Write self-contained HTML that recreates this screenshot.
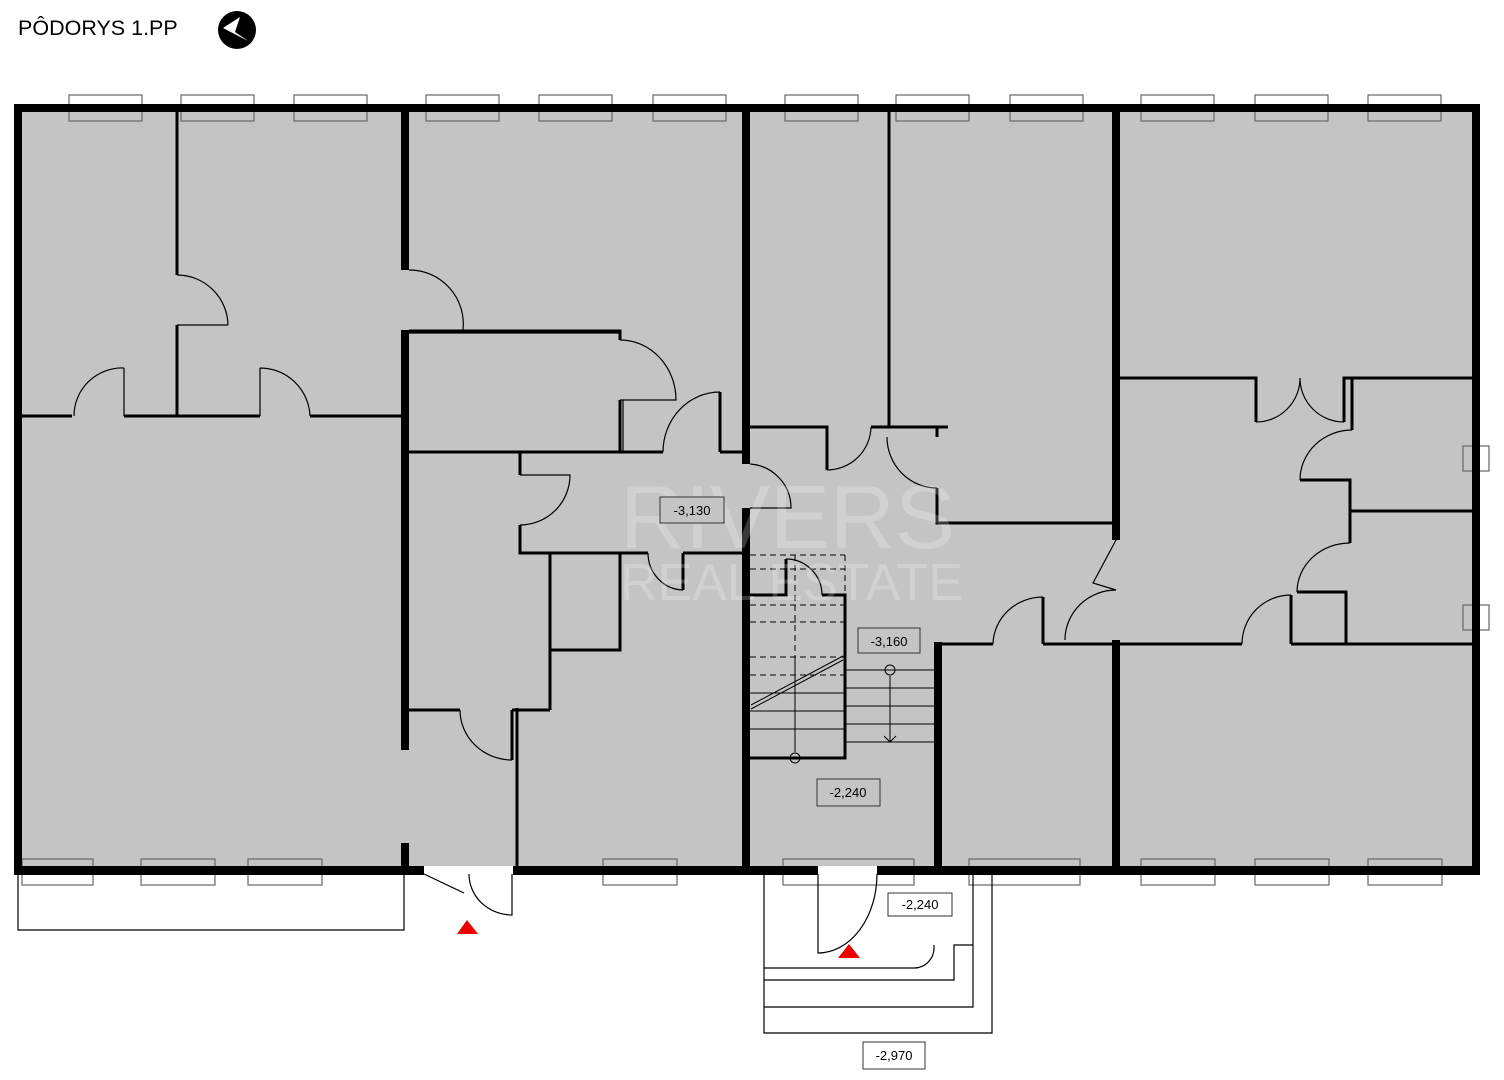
<!DOCTYPE html>
<html><head><meta charset="utf-8"><style>
html,body{margin:0;padding:0;background:#fff;}
svg{display:block;}
text{font-family:"Liberation Sans",sans-serif;}
</style></head><body>
<svg width="1504" height="1080" viewBox="0 0 1504 1080" xmlns="http://www.w3.org/2000/svg">
<text x="18" y="35" font-size="21.5" fill="#000">PÔDORYS 1.PP</text>
<circle cx="237" cy="30" r="19" fill="#000"/>
<polygon points="223,28 240,17 235,32 248,41" fill="#fff"/>

<!-- floor -->
<rect x="18" y="108" width="1458" height="762" fill="#c4c4c4"/>
<rect x="424" y="866" width="89" height="10" fill="#fff"/>
<rect x="818" y="866" width="59" height="10" fill="#fff"/>

<!-- windows -->
<g fill="none" stroke="#666" stroke-width="1.2">
<rect x="69" y="95" width="73" height="26"/><rect x="181" y="95" width="73" height="26"/><rect x="294" y="95" width="73" height="26"/>
<rect x="426" y="95" width="73" height="26"/><rect x="539" y="95" width="73" height="26"/><rect x="653" y="95" width="73" height="26"/>
<rect x="785" y="95" width="73" height="26"/><rect x="896" y="95" width="73" height="26"/><rect x="1010" y="95" width="73" height="26"/>
<rect x="1141" y="95" width="73" height="26"/><rect x="1255" y="95" width="73" height="26"/><rect x="1368" y="95" width="73" height="26"/>
<rect x="22" y="859" width="71" height="26"/><rect x="141" y="859" width="74" height="26"/><rect x="248" y="859" width="74" height="26"/>
<rect x="603" y="859" width="74" height="26"/><rect x="783" y="859" width="131" height="26"/><rect x="969" y="859" width="111" height="26"/>
<rect x="1141" y="859" width="74" height="26"/><rect x="1255" y="859" width="74" height="26"/><rect x="1368" y="859" width="74" height="26"/>
<rect x="1463" y="446" width="26" height="25"/><rect x="1463" y="605" width="26" height="25"/>
</g>

<!-- thick walls -->
<g fill="#000">
<rect x="14" y="104" width="1466" height="8"/>
<rect x="14" y="104" width="8" height="770"/>
<rect x="1472" y="104" width="8" height="770"/>
<rect x="14" y="866" width="410" height="9"/>
<rect x="513" y="866" width="305" height="9"/>
<rect x="877" y="866" width="603" height="9"/>
<rect x="401" y="104" width="8" height="166"/>
<rect x="401" y="330" width="8" height="420"/>
<rect x="401" y="843" width="8" height="25"/>
<rect x="742" y="104" width="8" height="360"/>
<rect x="742" y="508" width="8" height="360"/>
<rect x="1112" y="104" width="8" height="436"/>
<rect x="1112" y="640" width="8" height="228"/>
<rect x="934" y="642" width="8" height="226"/>
</g>

<!-- thin walls -->
<g fill="none" stroke="#000" stroke-width="3">
<path d="M177 112V275M177 325V416"/>
<path d="M22 416H72M124 416H260M310 416H401"/>
<path d="M409 331H620V340M620 400V452"/>
<path d="M409 452H663M720 452H742M720 452V392"/>
<path d="M520 452V475M520 525V553H648M683 553H742M683 553V590"/>
<path d="M550 553V710M620 553V650H550"/>
<path d="M409 710H460M512 710H550M512 710V760M517 708V866"/>
<path d="M889 112V427"/>
<path d="M750 427H827V470M871 427H948M937 427V437M937 488V523H1112"/>
<path d="M942 644H993M1043 644H1112M1043 644V597"/>
<path d="M1120 378H1256V422M1344 422V378H1472"/>
<path d="M1352 378V430M1300 480H1350V543M1350 511H1472M1297 592H1346V644"/>
<path d="M1120 644H1242M1291 644H1472M1291 644V595"/>
<path d="M750 595H786V559M822 595H845V758H750"/>
</g>

<!-- door arcs -->
<g fill="none" stroke="#000" stroke-width="1.2">
<path d="M124 368V416M124 368A48 48 0 0 0 74 416"/>
<path d="M260 368V416M260 368A50 50 0 0 1 310 416"/>
<path d="M177 325H228M177 275A51 51 0 0 1 228 325"/>
<path d="M409 270A54 54 0 0 1 463 330"/>
<path d="M620 340A56 60 0 0 1 676 400H620"/>
<path d="M720 392A57 60 0 0 0 663 452"/>
<path d="M520 475H570A50 50 0 0 1 520 525"/>
<path d="M648 553A36 37 0 0 0 683 590"/>
<path d="M460 710A52 50 0 0 0 512 760"/>
<path d="M750 464A44 44 0 0 1 791 508H750"/>
<path d="M827 470A44 44 0 0 0 871 427"/>
<path d="M887 437A50 51 0 0 0 937 488"/>
<path d="M993 644A50 48 0 0 1 1043 597"/>
<path d="M1242 644A49 49 0 0 1 1291 595"/>
<path d="M1256 422A44 44 0 0 0 1300 378M1344 422A44 44 0 0 1 1300 378"/>
<path d="M1352 430A52 50 0 0 0 1300 480"/>
<path d="M1350 543A53 49 0 0 0 1297 592"/>
<path d="M1116 590A51 50 0 0 0 1065 640M1116 540L1093 583L1116 590"/>
<path d="M786 559A36 36 0 0 1 822 595"/>
<path d="M424 874L464 893M469 874A43 41 0 0 0 512 915V874"/>
<path d="M818 874V953A59 79 0 0 0 877 874"/>
<path d="M409 333H620"/>
<path d="M623 400V452"/>
</g>

<!-- stairs -->
<g fill="none" stroke="#000" stroke-width="1">
<path d="M750 555H845M750 569H845M750 605H845M750 622H845M750 657H845M750 675H845M845 555V595M795 555V655" stroke-dasharray="6,4"/>
<path d="M795 655V752"/>
<path d="M750 693H845M750 711H845M750 729H845"/>
<path d="M845 670H934M845 688H934M845 706H934M845 724H934M845 742H934"/>
<path d="M890 676V742M884 736L890 742L896 736"/>
<circle cx="890" cy="670" r="5"/><circle cx="795" cy="758" r="5"/>
<path d="M751 705L843 656M751 709L843 660"/>
</g>

<!-- outside -->
<g fill="none" stroke="#000" stroke-width="1.2">
<path d="M404 874V930H18V874"/>
<path d="M764 874V1033H992V874M764 1007H973V874M764 980H954V945H973M764 968H914A20 20 0 0 0 934 948V945"/>
</g>
<polygon points="457,934 467,920 478,934" fill="#e00"/>
<polygon points="838,958 849,944 860,958" fill="#e00"/>

<!-- watermark -->
<g fill="#fff" opacity="0.22" font-size="90">
<text x="620" y="548">RIVERS</text>
<text x="620" y="600" font-size="52">REAL ESTATE</text>
</g>

<!-- labels -->
<g font-size="13" fill="#000">
<rect x="660" y="497" width="64" height="26" fill="#c4c4c4" stroke="#333"/><text x="692" y="515" text-anchor="middle">-3,130</text>
<rect x="858" y="628" width="62" height="25" fill="#c4c4c4" stroke="#333"/><text x="889" y="646" text-anchor="middle">-3,160</text>
<rect x="817" y="779" width="63" height="27" fill="#c4c4c4" stroke="#333"/><text x="848" y="797" text-anchor="middle">-2,240</text>
<rect x="888" y="893" width="64" height="23" fill="#fff" stroke="#333"/><text x="920" y="909" text-anchor="middle">-2,240</text>
<rect x="863" y="1042" width="62" height="27" fill="#fff" stroke="#333"/><text x="894" y="1060" text-anchor="middle">-2,970</text>
</g>
</svg>
</body></html>
